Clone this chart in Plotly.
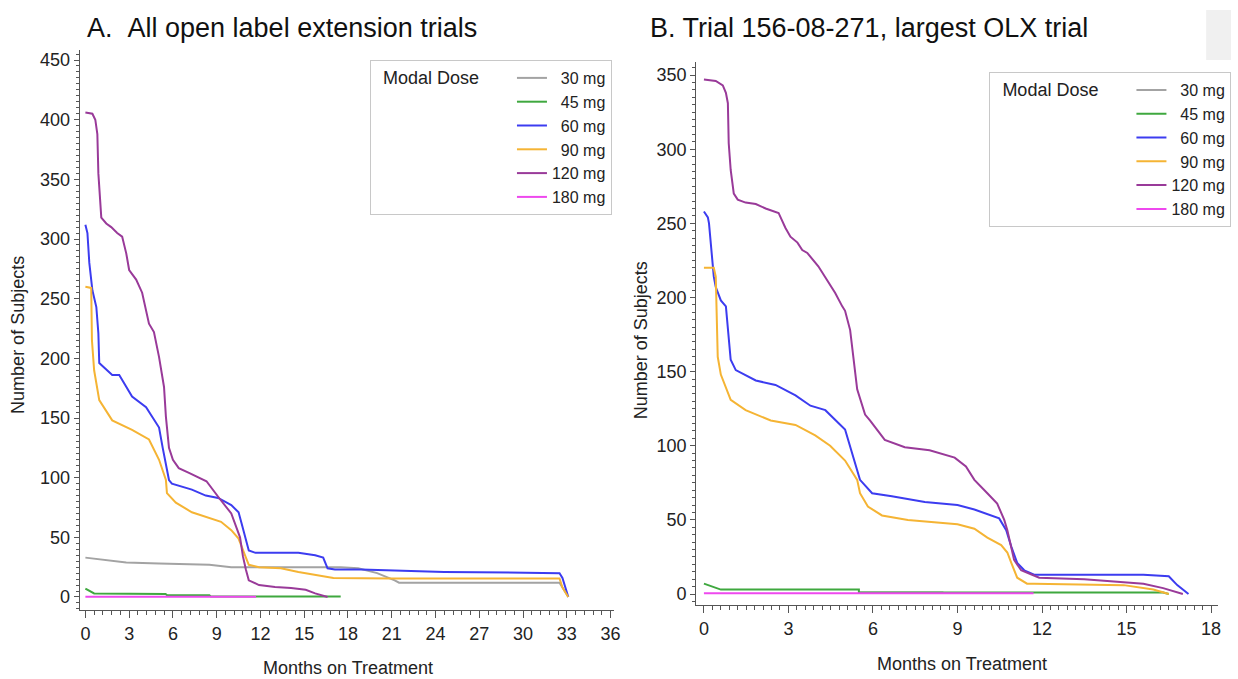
import plotly.graph_objects as go

W, H = 1238, 679

doses = ["30 mg", "45 mg", "60 mg", "90 mg", "120 mg", "180 mg"]
colors = ["#a3a3a3", "#3fa83f", "#3c3cf0", "#f5b434", "#993a99", "#ee48ee"]

# Panel A: all open label extension trials (months, number of subjects)
A_30_x = [0, 1.6, 2.8, 5.05, 8.5, 10.0, 17.5, 18.7, 20.0, 21.2, 21.5, 32.5, 32.8, 33.1]
A_30_y = [33, 31, 29, 28, 27, 25, 25, 24, 20, 14, 12, 12, 6, 0]
A_45_x = [0, 0.6, 5.5, 5.6, 8.5, 8.6, 17.5]
A_45_y = [7, 3, 2.5, 1.5, 1.5, 0.5, 0.5]
A_60_x = [0, 0.14, 0.27, 0.41, 0.48, 0.75, 0.89, 0.95, 1.84, 2.32, 3.2, 4.16, 5.05, 5.3, 5.73, 5.93,
          7.3, 8.25, 9.1, 10.0, 10.5, 10.7, 10.97, 11.2, 11.66, 13.0, 14.6, 15.75, 16.3, 16.6, 17.1,
          18.9, 24.6, 32.5, 32.7, 33.1]
A_60_y = [312, 305, 280, 266, 257, 243, 221, 196, 186, 186, 168, 159, 142, 125, 98, 95,
          90, 85, 83, 77, 71, 62, 50, 39, 37, 37, 37, 35, 33, 24, 23,
          23, 21, 20, 16, 0]
A_90_x = [0, 0.4, 0.45, 0.6, 0.95, 1.84, 3.2, 4.36, 5.05, 5.52, 5.59, 6.2, 7.3, 8.66, 9.3, 10.0,
          10.5, 10.97, 11.2, 11.9, 13.4, 14.6, 16.0, 17.0, 21.0, 32.5, 32.7, 33.1]
A_90_y = [260, 259, 215, 190, 165, 148, 140, 132, 115, 98, 87, 79, 71, 66, 63, 56,
          49, 34, 27, 25, 24, 21, 18, 16, 15.5, 15.5, 8, 0]
A_120_x = [0, 0.48, 0.68, 0.82, 0.89, 1.09, 1.43, 1.77, 2.18, 2.52, 2.80, 3.0, 3.48, 3.89, 4.36,
           4.7, 5.05, 5.39, 5.52, 5.59, 5.73, 6.0, 6.4, 7.1, 7.8, 8.3, 9.1, 10.0, 10.6, 10.8, 11.0,
           11.2, 11.9, 13.0, 14.1, 15.1, 15.75, 16.4, 16.6]
A_120_y = [406, 405, 400, 388, 355, 318, 313, 310, 305, 302, 288, 274, 266, 255, 229,
           222, 201, 176, 151, 140, 125, 115, 108, 104, 100, 97, 84, 70, 50, 34, 23,
           14, 10, 8.4, 7.5, 6, 3, 1, 0]
A_180_x = [0, 11.7]
A_180_y = [0.3, 0.3]

# Panel B: trial 156-08-271
B_30_x = [5.5, 8.5]
B_30_y = [1, 1]
B_45_x = [0, 0.6, 5.5, 5.5, 16.3, 16.5]
B_45_y = [7, 3, 3, 1, 1, 0]
B_60_x = [0, 0.14, 0.18, 0.25, 0.32, 0.35, 0.42, 0.49, 0.6, 0.78, 0.95, 1.13, 1.84, 2.54, 3.25,
          3.78, 4.31, 5.01, 5.37, 5.54, 5.97, 6.67, 7.84, 9.0, 9.6, 10.48, 10.73, 10.91, 11.12,
          11.37, 11.72, 15.6, 16.5, 16.8, 17.2]
B_60_y = [258, 254, 250, 234, 221, 214, 207, 203, 198, 194, 158, 151, 144, 141, 134,
          127, 124, 111, 87, 77, 68, 66, 62, 60, 57, 51, 43, 32, 21,
          16, 13, 13, 12, 6, 0]
B_90_x = [0, 0.35, 0.42, 0.49, 0.6, 0.95, 1.48, 2.37, 3.25, 3.95, 4.48, 5.01, 5.44, 5.54, 5.82,
          6.32, 7.24, 8.44, 9.0, 9.6, 10.06, 10.55, 10.77, 10.91, 11.12, 11.47, 11.72, 14.9, 15.95, 16.5]
B_90_y = [220, 220, 214, 160, 148, 131, 124, 117, 114, 107, 100, 90, 77, 68, 59,
          53, 50, 48, 47, 44, 38, 33, 28, 21, 11, 7, 7, 6, 3, 0]
B_120_x = [0, 0.42, 0.67, 0.78, 0.85, 0.88, 0.95, 1.06, 1.2, 1.48, 1.84, 2.19, 2.65, 2.89, 3.07,
           3.32, 3.49, 3.67, 4.06, 4.41, 4.66, 4.91, 5.01, 5.19, 5.44, 5.72, 5.9, 6.42, 7.13, 8.01,
           8.9, 9.3, 9.6, 10.06, 10.41, 10.66, 10.77, 11.01, 11.26, 11.65, 11.9, 13.5, 15.6, 16.3, 17.0]
B_120_y = [347, 346, 343, 338, 331, 304, 286, 270, 266, 264, 263, 260, 257, 247, 241,
           237, 232, 230, 221, 210, 203, 194, 191, 178, 138, 121, 117, 104, 99, 97,
           92, 86, 77, 68, 61, 50, 43, 23, 16, 13, 11, 10, 7, 4, 0]
B_180_x = [0, 11.7]
B_180_y = [0.5, 0.5]

A_series = [(A_30_x, A_30_y), (A_45_x, A_45_y), (A_60_x, A_60_y),
            (A_90_x, A_90_y), (A_120_x, A_120_y), (A_180_x, A_180_y)]
B_series = [(B_30_x, B_30_y), (B_45_x, B_45_y), (B_60_x, B_60_y),
            (B_90_x, B_90_y), (B_120_x, B_120_y), (B_180_x, B_180_y)]

FONT = "Liberation Sans, Arial, sans-serif"

fig = go.Figure()
for i, (name, col) in enumerate(zip(doses, colors)):
    x, y = A_series[i]
    fig.add_trace(go.Scatter(x=x, y=y, mode="lines", name=name.rjust(6, "\u2007"),
                             line=dict(color=col, width=2), xaxis="x", yaxis="y",
                             legend="legend"))
for i, (name, col) in enumerate(zip(doses, colors)):
    x, y = B_series[i]
    fig.add_trace(go.Scatter(x=x, y=y, mode="lines", name=name.rjust(6, "\u2007"),
                             line=dict(color=col, width=2), xaxis="x2", yaxis="y2",
                             legend="legend2"))

axcol = "#555555"
tickfont = dict(family=FONT, size=18, color="#222222")


def xax(domain, rng, dtick, minor):
    return dict(domain=domain, range=rng, dtick=dtick, tick0=0, showline=True, linecolor=axcol,
                linewidth=1, ticks="outside", ticklen=7, tickcolor=axcol, showgrid=False,
                zeroline=False, tickfont=tickfont,
                minor=dict(dtick=minor, tick0=0, ticks="outside", ticklen=4, tickcolor=axcol))


def yax(domain, rng, dtick, minor, anchor):
    return dict(domain=domain, range=rng, dtick=dtick, tick0=0, showline=True, linecolor=axcol,
                linewidth=1, ticks="outside", ticklen=5, tickcolor=axcol, showgrid=False,
                zeroline=False, tickfont=tickfont, anchor=anchor,
                minor=dict(dtick=minor, tick0=0, ticks="outside", ticklen=3, tickcolor=axcol))


def px(v):
    return v / W


def py(v):
    return 1 - v / H


xa = xax([px(80), px(617)], [-0.4, 36.2], 3, 0.6)
xa["anchor"] = "y"
ya = yax([py(610), py(50)], [-10.9, 458.4], 50, 5, "x")
xb = xax([px(700), px(1225)], [-0.28, 18.25], 3, 0.3)
xb["anchor"] = "y2"
yb = yax([py(605), py(62)], [-7.4, 358.8], 50, 5, "x2")

legfont = dict(family=FONT, size=16, color="#222222")
legtitlefont = dict(family=FONT, size=18, color="#222222")


def leg(x, y):
    return dict(x=x, y=y, xanchor="left", yanchor="top", bgcolor="white",
                bordercolor="#c8c8c8", borderwidth=1, font=legfont,
                title=dict(text="\u00a0\u00a0Modal Dose\u00a0\u00a0\u00a0\u00a0\u00a0",
                           side="left", font=legtitlefont),
                itemwidth=30, tracegroupgap=0)


annotations = [
    dict(text="A.\u00a0\u00a0All open label extension trials", x=px(85), y=py(28), xref="paper",
         yref="paper", xanchor="left", yanchor="middle", showarrow=False,
         font=dict(family=FONT, size=27, color="#111111")),
    dict(text="B. Trial 156-08-271, largest OLX trial", x=px(652), y=py(28), xref="paper",
         yref="paper", xanchor="left", yanchor="middle", showarrow=False,
         font=dict(family=FONT, size=27, color="#111111")),
    dict(text="Number of Subjects", x=px(18), y=py(335), xref="paper", yref="paper",
         textangle=-90, showarrow=False, xanchor="center", yanchor="middle",
         font=dict(family=FONT, size=18, color="#222222")),
    dict(text="Number of Subjects", x=px(645), y=py(340), xref="paper", yref="paper",
         textangle=-90, showarrow=False, xanchor="center", yanchor="middle",
         font=dict(family=FONT, size=18, color="#222222")),
    dict(text="Months on Treatment", x=px(350), y=py(668), xref="paper", yref="paper",
         showarrow=False, xanchor="center", yanchor="middle",
         font=dict(family=FONT, size=18, color="#222222")),
    dict(text="Months on Treatment", x=px(967), y=py(664), xref="paper", yref="paper",
         showarrow=False, xanchor="center", yanchor="middle",
         font=dict(family=FONT, size=18, color="#222222")),
]

shapes = [dict(type="rect", xref="paper", yref="paper", x0=px(1213), x1=1, y0=py(60), y1=py(10),
               fillcolor="#f0f0f0", line=dict(width=0), layer="below")]

fig.update_layout(
    width=W, height=H, autosize=False,
    margin=dict(l=0, r=0, t=0, b=0),
    paper_bgcolor="white", plot_bgcolor="white",
    font=dict(family=FONT, color="#222222"),
    xaxis=xa, yaxis=ya, xaxis2=xb, yaxis2=yb,
    legend=leg(px(372), py(60)),
    legend2=leg(px(995), py(72)),
    annotations=annotations, shapes=shapes,
    showlegend=True,
)

fig.write_html("out.html")
